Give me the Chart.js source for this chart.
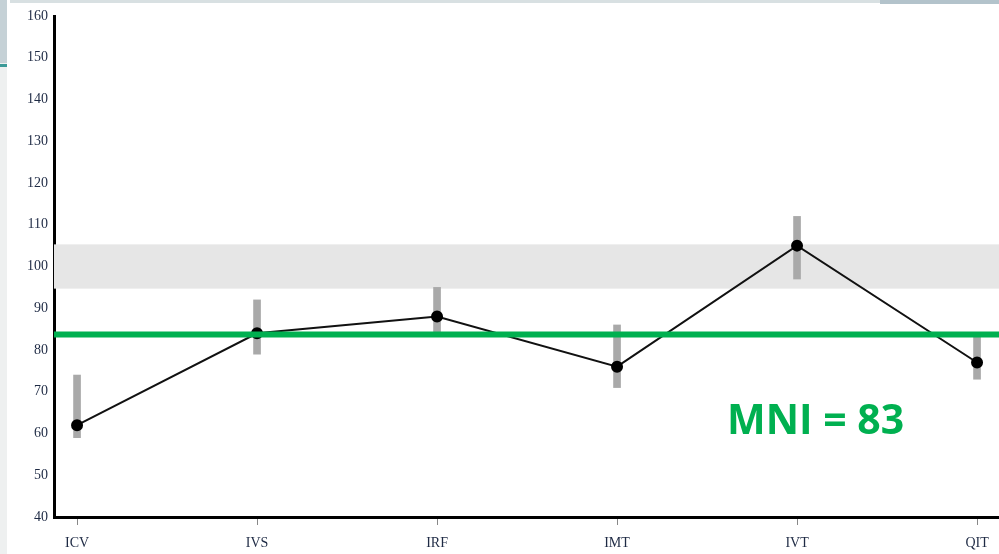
<!DOCTYPE html>
<html>
<head>
<meta charset="utf-8">
<script src="https://cdn.jsdelivr.net/npm/chart.js@4/dist/chart.umd.min.js"></script>
<style>
  body { margin: 0; background: #ffffff; }
  #wrap { position: relative; width: 999px; height: 554px; }
  .strip { position: absolute; }
  canvas { position: absolute; left: 0; top: 0; }
</style>
</head>
<body>
<div id="wrap">
  <div class="strip" style="left:0;top:0;width:7px;height:554px;background:#eef0f0"></div>
  <div class="strip" style="left:0;top:0;width:7px;height:63px;background:#c5d1d6"></div>
  <div class="strip" style="left:0;top:64px;width:7px;height:3px;background:#3c9a98"></div>
  <div class="strip" style="left:10px;top:0;width:870px;height:3px;background:#d8e0e2"></div>
  <div class="strip" style="left:880px;top:0;width:119px;height:4px;background:#b3c3cb"></div>
  <canvas id="myChart" width="999" height="554"></canvas>
</div>
<script>
// categories and values
var categories = ['ICV', 'IVS', 'IRF', 'IMT', 'IVT', 'QIT']
var scores = [62, 84, 88, 76, 105, 77]
var rangeLow = [59, 79, 84, 71, 97, 73]
var rangeHigh = [74, 92, 95, 86, 112, 84]

var yTicksMin = 40
var yTicksMax = 160
var normalBand = [94.7, 105.3]
var mniValue = 83.7
var mniLabel = 'MNI = 83'

var xMin = -0.128
var xMax = 5.122

function loadChart(){

	var linePoints = scores.map((v, i) => ({x: i, y: v}))
	var barPoints = scores.map((v, i) => ({x: i, y: [rangeLow[i], rangeHigh[i]]}))
	var mniPoints = [{x: xMin, y: mniValue}, {x: xMax, y: mniValue}]

	const band = {
		id: 'normal_band',
		beforeDatasetsDraw: (chart) => {
			const ctx = chart.ctx
			const y = chart.scales.y
			const area = chart.chartArea
			const top = y.getPixelForValue(normalBand[1])
			const bottom = y.getPixelForValue(normalBand[0])
			ctx.save()
			ctx.fillStyle = '#e6e6e6'
			ctx.fillRect(area.left, top, area.right - area.left, bottom - top)
			ctx.restore()
		}
	}

	const mniText = {
		id: 'mni_text',
		afterDatasetsDraw: (chart) => {
			const ctx = chart.ctx
			ctx.save()
			ctx.fillStyle = '#00b050'
			ctx.font = 'bold 41px "Open Sans"'
			ctx.textAlign = 'left'
			ctx.textBaseline = 'alphabetic'
			ctx.fillText(mniLabel, 727, 434)
			ctx.restore()
		}
	}

	const tickFont = { family: '"Liberation Serif", serif', size: 14 }

	const data = {
		datasets: [
		{
			type: 'line',
			label: 'MNI',
			data: mniPoints,
			borderColor: '#00b050',
			borderWidth: 6,
			pointRadius: 0,
			order: 0
		},
		{
			type: 'line',
			label: 'Score',
			data: linePoints,
			borderColor: '#111111',
			borderWidth: 2,
			pointRadius: 5,
			pointBackgroundColor: '#000000',
			pointBorderColor: '#000000',
			order: 1
		},
		{
			type: 'bar',
			label: 'Range',
			data: barPoints,
			backgroundColor: '#a9a9a9',
			barThickness: 7,
			order: 2
		}
		]
	}

	const config = {
		type: 'line',
		data: data,
		options: {
			responsive: false,
			animation: false,
			layout: { autoPadding: false, padding: { top: 16, right: 0, left: 0, bottom: 0 } },
			plugins: {
				legend: { display: false },
				tooltip: { enabled: false }
			},
			scales: {
				x: {
					type: 'linear',
					min: xMin,
					max: xMax,
					offset: false,
					afterBuildTicks: (scale) => {
						scale.ticks = categories.map((c, i) => ({value: i}))
					},
					afterFit: (scale) => {
						scale.height = 37
						scale.paddingLeft = 0
						scale.paddingRight = 0
					},
					ticks: {
						callback: (value) => categories[value],
						font: tickFont,
						color: '#1e2a44',
						padding: 10,
						maxRotation: 0,
						autoSkip: false
					},
					grid: {
						display: true,
						offset: false,
						drawOnChartArea: false,
						drawTicks: true,
						tickLength: 8,
						color: '#888888',
						lineWidth: 1
					},
					border: { display: true, color: '#000000', width: 3 }
				},
				y: {
					min: yTicksMin,
					max: yTicksMax,
					afterFit: (scale) => { scale.width = 54 },
					ticks: {
						stepSize: 10,
						font: tickFont,
						color: '#1e2a44',
						padding: 6
					},
					grid: { display: false, drawTicks: false },
					border: { display: true, color: '#000000', width: 3 }
				}
			}
		},
		plugins: [band, mniText]
	}

	const myChart = new Chart(document.getElementById('myChart'), config)
}

loadChart()
</script>
</body>
</html>
